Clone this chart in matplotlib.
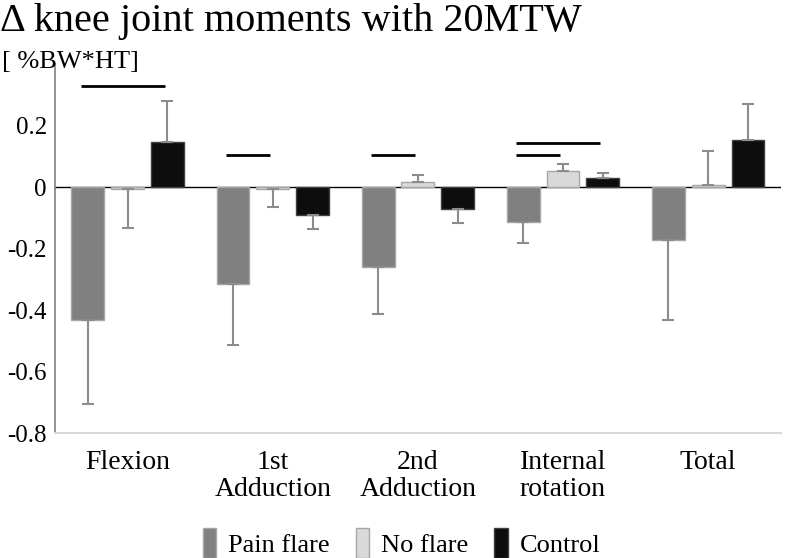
import matplotlib
matplotlib.use("Agg")
import matplotlib.pyplot as plt
import numpy as np

# categories and series
categories = ["Flexion", "1st\nAdduction", "2nd\nAdduction", "Internal\nrotation", "Total"]
series = ["Pain flare", "No flare", "Control"]

pain_flare = [-0.433, -0.316, -0.260, -0.114, -0.172]
pain_flare_err = [0.273, 0.198, 0.153, 0.068, 0.261]
no_flare = [-0.007, -0.007, 0.016, 0.052, 0.006]
no_flare_err = [0.126, 0.058, 0.023, 0.023, 0.111]
control = [0.146, -0.091, -0.072, 0.029, 0.153]
control_err = [0.134, 0.046, 0.045, 0.016, 0.117]

# significance bars: (category, series a, series b, height)
sig_lines = [(0, 0, 2, 0.33), (1, 0, 1, 0.104), (2, 0, 1, 0.104),
             (3, 0, 2, 0.143), (3, 0, 1, 0.104)]

plt.rcParams["font.family"] = ["Liberation Serif", "DejaVu Serif"]

fill_colors = ["#808080", "#d9d9d9", "#0d0d0d"]
edge_colors = ["#a6a6a6", "#a6a6a6", "#404040"]
err_color = "#8c8c8c"

fig = plt.figure(figsize=(7.87, 5.58), dpi=100)
ax = fig.add_axes([0.070, 0.224, 0.922, 0.661])

x = np.arange(len(categories))
width = 0.226
step = 0.274
offsets = [-step, 0, step]

values = [pain_flare, no_flare, control]
errors = [pain_flare_err, no_flare_err, control_err]

for i, (vals, errs) in enumerate(zip(values, errors)):
    vals = np.array(vals)
    errs = np.array(errs)
    pos = x + offsets[i]
    ax.bar(pos, vals, width, color=fill_colors[i], edgecolor=edge_colors[i],
           linewidth=1.0, label=series[i], zorder=2)
    lower = np.where(vals < 0, errs, 0)
    upper = np.where(vals >= 0, errs, 0)
    ax.errorbar(pos, vals, yerr=[lower, upper], fmt="none", ecolor=err_color,
                elinewidth=1.5, capsize=4, capthick=1.5, zorder=3)

for cat, a, b, h in sig_lines:
    ax.plot([cat + offsets[a] - 0.05, cat + offsets[b] - 0.02], [h, h],
            color="black", linewidth=2, solid_capstyle="butt", zorder=4)

ax.axhline(0, color="black", linewidth=1.0, zorder=1)

ax.set_xlim(-0.5, len(categories) - 0.5)
ax.set_ylim(-0.8, 0.4)
ax.set_yticks([-0.8, -0.6, -0.4, -0.2, 0, 0.2])
ax.set_yticklabels(["-0.8", "-0.6", "-0.4", "-0.2", "0", "0.2"], fontsize=18)
ax.set_xticks(x)
ax.set_xticklabels(categories, fontsize=20, linespacing=1.1)
ax.tick_params(axis="x", length=0, pad=12)
ax.tick_params(axis="y", length=0, pad=6)

ax.spines["top"].set_visible(False)
ax.spines["right"].set_visible(False)
ax.spines["left"].set_color("#808080")
ax.spines["left"].set_linewidth(1.2)
ax.spines["bottom"].set_color("#d9d9d9")
ax.spines["bottom"].set_linewidth(1.5)

fig.text(0.0, 0.962, "\u0394 knee joint moments with 20MTW", fontsize=29,
         ha="left", va="center")
fig.text(0.003, 0.888, "[ %BW*HT]", fontsize=19, ha="left", va="center")

fig.legend(loc="center", bbox_to_anchor=(0.51, 0.027), ncol=3, frameon=False,
           fontsize=19, handlelength=0.5, handleheight=1.4, handletextpad=0.45,
           columnspacing=1.0)

fig.savefig("out.png", dpi=100)
